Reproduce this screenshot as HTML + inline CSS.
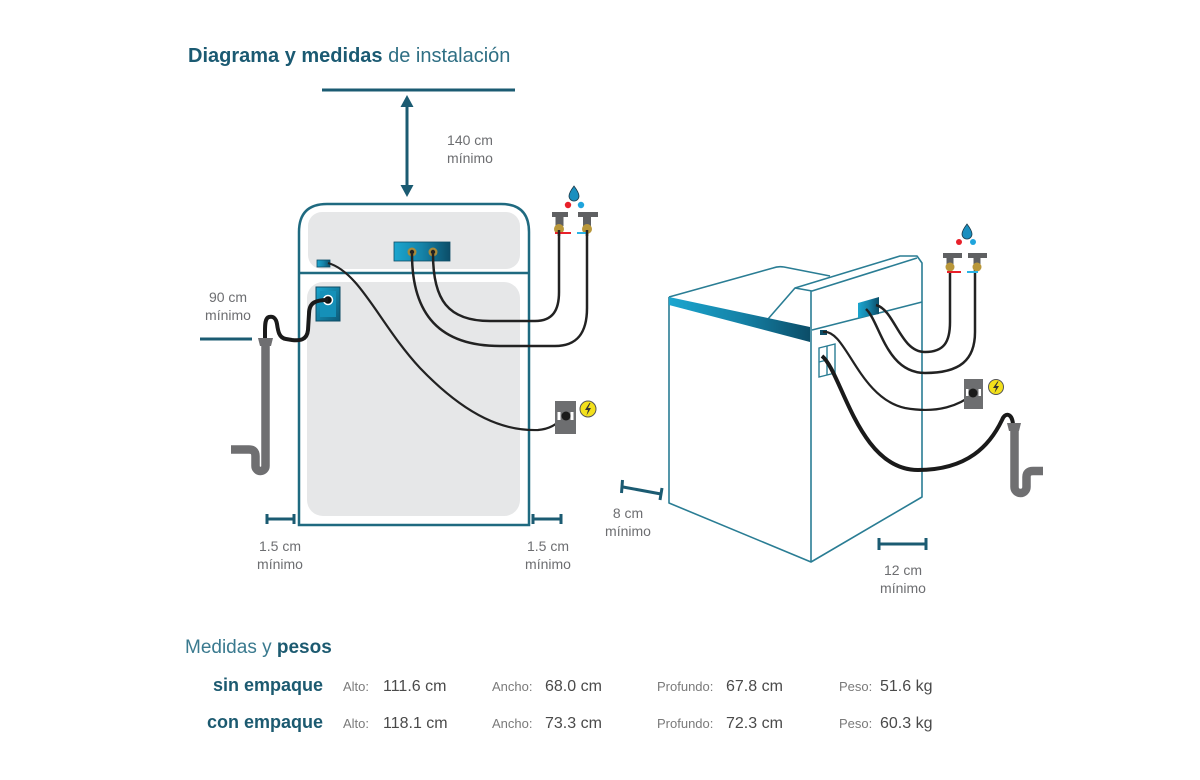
<!DOCTYPE html>
<html>
<head>
<meta charset="utf-8">
<style>
html,body{margin:0;padding:0;background:#fff;}
svg{display:block;}
text{font-family:"Liberation Sans",Arial,sans-serif;}
</style>
</head>
<body>
<svg width="1200" height="780" viewBox="0 0 1200 780" xmlns="http://www.w3.org/2000/svg">
<defs>
<linearGradient id="gb" x1="0" y1="0" x2="1" y2="0">
<stop offset="0" stop-color="#1ba6cf"/>
<stop offset="0.5" stop-color="#1583a8"/>
<stop offset="1" stop-color="#0b4d68"/>
</linearGradient>
<linearGradient id="gb2" x1="0" y1="0" x2="1" y2="1">
<stop offset="0" stop-color="#1ba6cf"/>
<stop offset="1" stop-color="#0d5a78"/>
</linearGradient>
</defs>
<rect width="1200" height="780" fill="#fff"/>

<!-- Title -->
<text x="188" y="62" font-size="20" fill="#1b5a72"><tspan font-weight="bold">Diagrama y medidas</tspan><tspan fill="#2f6f84"> de instalación</tspan></text>

<!-- top clearance line and arrow -->
<line x1="322" y1="90" x2="515" y2="90" stroke="#1b5b72" stroke-width="3"/>
<line x1="407" y1="103" x2="407" y2="189" stroke="#1b5b72" stroke-width="3"/>
<polygon points="407,95 400.5,107 413.5,107" fill="#1b5b72"/>
<polygon points="407,197 400.5,185 413.5,185" fill="#1b5b72"/>
<text x="470" y="145" font-size="14" fill="#6d6e71" text-anchor="middle">140 cm</text>
<text x="470" y="163" font-size="14" fill="#6d6e71" text-anchor="middle">mínimo</text>

<!-- LEFT MACHINE -->
<rect x="308" y="212" width="212" height="57" rx="14" fill="#e6e7e8"/>
<rect x="307" y="282" width="213" height="234" rx="16" fill="#e6e7e8"/>
<path d="M299,525 L299,232 Q299,204 327,204 L501,204 Q529,204 529,232 L529,525 Z" fill="none" stroke="#1f6a80" stroke-width="2.5"/>
<line x1="299" y1="273" x2="529" y2="273" stroke="#1f6a80" stroke-width="2.5"/>

<!-- top panel -->
<rect x="394" y="242" width="56" height="19" fill="url(#gb)" stroke="#0d4d66" stroke-width="0.8"/>
<circle cx="412" cy="252" r="4.5" fill="#a8893a"/>
<circle cx="412" cy="252" r="2.2" fill="#222"/>
<circle cx="433" cy="252" r="4.5" fill="#a8893a"/>
<circle cx="433" cy="252" r="2.2" fill="#222"/>
<!-- small connector -->
<rect x="317" y="260" width="13" height="7" fill="url(#gb)" stroke="#0d4d66" stroke-width="0.8"/>
<!-- drain box -->
<rect x="316" y="287" width="24" height="34" fill="url(#gb2)" stroke="#0d4d66" stroke-width="1"/>
<rect x="320" y="291" width="16" height="26" fill="#1590b8"/>
<circle cx="328" cy="300" r="4.5" fill="#111" stroke="#fff" stroke-width="1.5"/>

<!-- hoses left -->
<path d="M433,254 C433,300 448,321 490,321 L535,321 C553,321 559,310 559,292 L559,232" fill="none" stroke="#222" stroke-width="2.5"/>
<path d="M412,254 C412,315 440,346 500,346 L555,346 C578,346 587,332 587,308 L587,232" fill="none" stroke="#222" stroke-width="2.5"/>
<!-- power cord left -->
<path d="M328,263 C360,272 380,325 420,368 C468,418 505,431 538,430 C553,429 559,421 566,416" fill="none" stroke="#222" stroke-width="2.2"/>
<!-- drain hose left -->
<path d="M328,300 C316,300 309,302 309,314 L308,330 C307,340 300,341 292,340 L286,339 C279,338 278,331 277,324 C276,318 273,316 269,317 C265,318 265,325 265,331 L265,339" fill="none" stroke="#1a1a1a" stroke-width="4"/>

<!-- drain pipe left -->
<path d="M265.5,345 L265.5,466 A5,5 0 0 1 255.5,466 L255.5,456 Q255.5,449.5 249,449.5 L231,449.5" fill="none" stroke="#6f6f71" stroke-width="8.5"/>
<polygon points="258,338 273,338 271,346 260,346" fill="#6f6f71"/>
<line x1="200" y1="339" x2="252" y2="339" stroke="#1b5b72" stroke-width="3"/>
<text x="228" y="302" font-size="14" fill="#6d6e71" text-anchor="middle">90 cm</text>
<text x="228" y="320" font-size="14" fill="#6d6e71" text-anchor="middle">mínimo</text>

<!-- faucets left -->
<path d="M574,186 C571,190 569,193 569,196 A5,5 0 0 0 579,196 C579,193 577,190 574,186 Z" fill="#1a8fbf" stroke="#1b3a4a" stroke-width="0.8"/>
<circle cx="568" cy="205" r="3.2" fill="#e8202a"/>
<circle cx="581" cy="205" r="3.2" fill="#1fa4dc"/>
<rect x="552" y="212" width="16" height="5" fill="#5f6062"/>
<rect x="555.5" y="216" width="8" height="10" fill="#5f6062"/>
<circle cx="559" cy="229" r="5" fill="#b9973a"/>
<line x1="555" y1="233" x2="571" y2="233" stroke="#e8202a" stroke-width="2"/>
<rect x="578" y="212" width="20" height="5" fill="#5f6062"/>
<rect x="583" y="216" width="8" height="10" fill="#5f6062"/>
<circle cx="587" cy="229" r="5" fill="#b9973a"/>
<line x1="577" y1="233" x2="588" y2="233" stroke="#29b3e6" stroke-width="2"/>
<line x1="559" y1="230" x2="559" y2="236" stroke="#222" stroke-width="2.5"/>
<line x1="587" y1="230" x2="587" y2="236" stroke="#222" stroke-width="2.5"/>

<!-- outlet left -->
<rect x="555" y="401" width="21" height="33" fill="#6d6e70"/>
<rect x="557.5" y="412" width="3" height="8" fill="#fff"/>
<rect x="570.5" y="412" width="3" height="8" fill="#fff"/>
<circle cx="566" cy="416" r="4.5" fill="#1a1a1a"/>
<circle cx="588" cy="409" r="8" fill="#f3e01b" stroke="#555" stroke-width="1"/>
<path d="M589.5,403 L585,410 L588,410 L586.5,415.5 L591,408 L588,408 L590.5,403 Z" fill="#333"/>

<!-- bottom markers left -->
<g stroke="#1b5b72" stroke-width="3">
<line x1="267" y1="519" x2="294" y2="519"/>
<line x1="267" y1="514" x2="267" y2="524"/>
<line x1="294" y1="514" x2="294" y2="524"/>
<line x1="533" y1="519" x2="561" y2="519"/>
<line x1="533" y1="514" x2="533" y2="524"/>
<line x1="561" y1="514" x2="561" y2="524"/>
</g>
<text x="280" y="551" font-size="14" fill="#6d6e71" text-anchor="middle">1.5 cm</text>
<text x="280" y="569" font-size="14" fill="#6d6e71" text-anchor="middle">mínimo</text>
<text x="548" y="551" font-size="14" fill="#6d6e71" text-anchor="middle">1.5 cm</text>
<text x="548" y="569" font-size="14" fill="#6d6e71" text-anchor="middle">mínimo</text>

<!-- RIGHT MACHINE -->
<g fill="none" stroke="#2a7d94" stroke-width="1.6" stroke-linejoin="round">
<path d="M669,297 L669,503 L811,562 L922,497 L922,263 L917,256 L900,256 L795,288 L768,319"/>
<path d="M669,297 L773,268 Q778,266 784,267 L830,276"/>
<path d="M795,288 L812,291 L917,258"/>
<path d="M811,291 L811,562"/>
<path d="M812,330 L922,302"/>
</g>
<polygon points="669,297 810,327 810,342 669,305" fill="url(#gb)"/>
<!-- right panel -->
<polygon points="858,303 879,297 879,314 858,318" fill="url(#gb)"/>
<rect x="820" y="330" width="7" height="5" fill="#0d4d66"/>
<!-- drain window -->
<g fill="none" stroke="#2a7d94" stroke-width="1.4">
<polygon points="819,348 835,344 835,373 819,377"/>
<line x1="827" y1="346" x2="827" y2="375"/>
<line x1="819" y1="362" x2="827" y2="360"/>
</g>
<!-- hoses right -->
<path d="M876,305 C895,310 900,352 925,352 C944,352 950,342 950,322 L950,268" fill="none" stroke="#222" stroke-width="2.5"/>
<path d="M866,309 C880,322 886,373 925,373 C960,373 975,360 975,332 L975,268" fill="none" stroke="#222" stroke-width="2.5"/>
<path d="M823,332 C846,328 858,398 905,408 C938,414 960,405 973,394" fill="none" stroke="#222" stroke-width="2.2"/>
<path d="M822,356 C842,372 858,470 918,470 C968,470 990,445 1002,420 C1005,412 1012,413 1013,424" fill="none" stroke="#1a1a1a" stroke-width="4"/>
<!-- drain pipe right -->
<path d="M1014.5,430 L1014.5,487 A6,6 0 0 0 1026.5,487 L1026.5,477 Q1026.5,471 1033,471 L1043,471" fill="none" stroke="#6f6f71" stroke-width="8.5"/>
<polygon points="1007,423 1021,423 1019,431 1009,431" fill="#6f6f71"/>

<!-- faucets right -->
<path d="M967,224 C964,228 962,231 962,234 A5,5 0 0 0 972,234 C972,231 970,228 967,224 Z" fill="#1a8fbf" stroke="#1b3a4a" stroke-width="0.8"/>
<circle cx="959" cy="242" r="3" fill="#e8202a"/>
<circle cx="973" cy="242" r="3" fill="#1fa4dc"/>
<rect x="943" y="253" width="19" height="5" fill="#5f6062"/>
<rect x="946.5" y="257" width="7" height="8" fill="#5f6062"/>
<circle cx="950" cy="267" r="4.5" fill="#b9973a"/>
<line x1="947" y1="272" x2="961" y2="272" stroke="#e8202a" stroke-width="2"/>
<rect x="968" y="253" width="19" height="5" fill="#5f6062"/>
<rect x="973.5" y="257" width="7" height="8" fill="#5f6062"/>
<circle cx="977" cy="267" r="4.5" fill="#b9973a"/>
<line x1="967" y1="272" x2="978" y2="272" stroke="#29b3e6" stroke-width="2"/>

<!-- outlet right -->
<rect x="964" y="379" width="19" height="30" fill="#6d6e70"/>
<rect x="966" y="389" width="2.5" height="7" fill="#fff"/>
<rect x="978.5" y="389" width="2.5" height="7" fill="#fff"/>
<circle cx="973" cy="393" r="4.5" fill="#1a1a1a"/>
<circle cx="996" cy="387" r="7.5" fill="#f3e01b" stroke="#555" stroke-width="1"/>
<path d="M997.5,381.5 L993,388 L996,388 L994.5,393 L999,386 L996,386 L998.5,381.5 Z" fill="#333"/>

<!-- right markers -->
<g stroke="#1b5b72" stroke-width="3">
<line x1="623" y1="487" x2="661" y2="494"/>
<line x1="622.5" y1="480" x2="621.5" y2="493"/>
<line x1="662" y1="488" x2="660" y2="500"/>
<line x1="879" y1="544" x2="926" y2="544"/>
<line x1="879" y1="538" x2="879" y2="550"/>
<line x1="926" y1="538" x2="926" y2="550"/>
</g>
<text x="628" y="518" font-size="14" fill="#6d6e71" text-anchor="middle">8 cm</text>
<text x="628" y="536" font-size="14" fill="#6d6e71" text-anchor="middle">mínimo</text>
<text x="903" y="575" font-size="14" fill="#6d6e71" text-anchor="middle">12 cm</text>
<text x="903" y="593" font-size="14" fill="#6d6e71" text-anchor="middle">mínimo</text>

<!-- TABLE -->
<text x="185" y="653" font-size="19" fill="#3a7a8f"><tspan>Medidas y </tspan><tspan font-weight="bold" fill="#1c5a70">pesos</tspan></text>

<text x="323" y="691" font-size="18" font-weight="bold" fill="#1c5a70" text-anchor="end">sin empaque</text>
<text x="343" y="691" font-size="13" fill="#7a7a7a">Alto:</text>
<text x="383" y="691" font-size="16" fill="#4a4a4a">111.6 cm</text>
<text x="492" y="691" font-size="13" fill="#7a7a7a">Ancho:</text>
<text x="545" y="691" font-size="16" fill="#4a4a4a">68.0 cm</text>
<text x="657" y="691" font-size="13" fill="#7a7a7a">Profundo:</text>
<text x="726" y="691" font-size="16" fill="#4a4a4a">67.8 cm</text>
<text x="839" y="691" font-size="13" fill="#7a7a7a">Peso:</text>
<text x="880" y="691" font-size="16" fill="#4a4a4a">51.6 kg</text>

<text x="323" y="728" font-size="18" font-weight="bold" fill="#1c5a70" text-anchor="end">con empaque</text>
<text x="343" y="728" font-size="13" fill="#7a7a7a">Alto:</text>
<text x="383" y="728" font-size="16" fill="#4a4a4a">118.1 cm</text>
<text x="492" y="728" font-size="13" fill="#7a7a7a">Ancho:</text>
<text x="545" y="728" font-size="16" fill="#4a4a4a">73.3 cm</text>
<text x="657" y="728" font-size="13" fill="#7a7a7a">Profundo:</text>
<text x="726" y="728" font-size="16" fill="#4a4a4a">72.3 cm</text>
<text x="839" y="728" font-size="13" fill="#7a7a7a">Peso:</text>
<text x="880" y="728" font-size="16" fill="#4a4a4a">60.3 kg</text>
</svg>
</body>
</html>
